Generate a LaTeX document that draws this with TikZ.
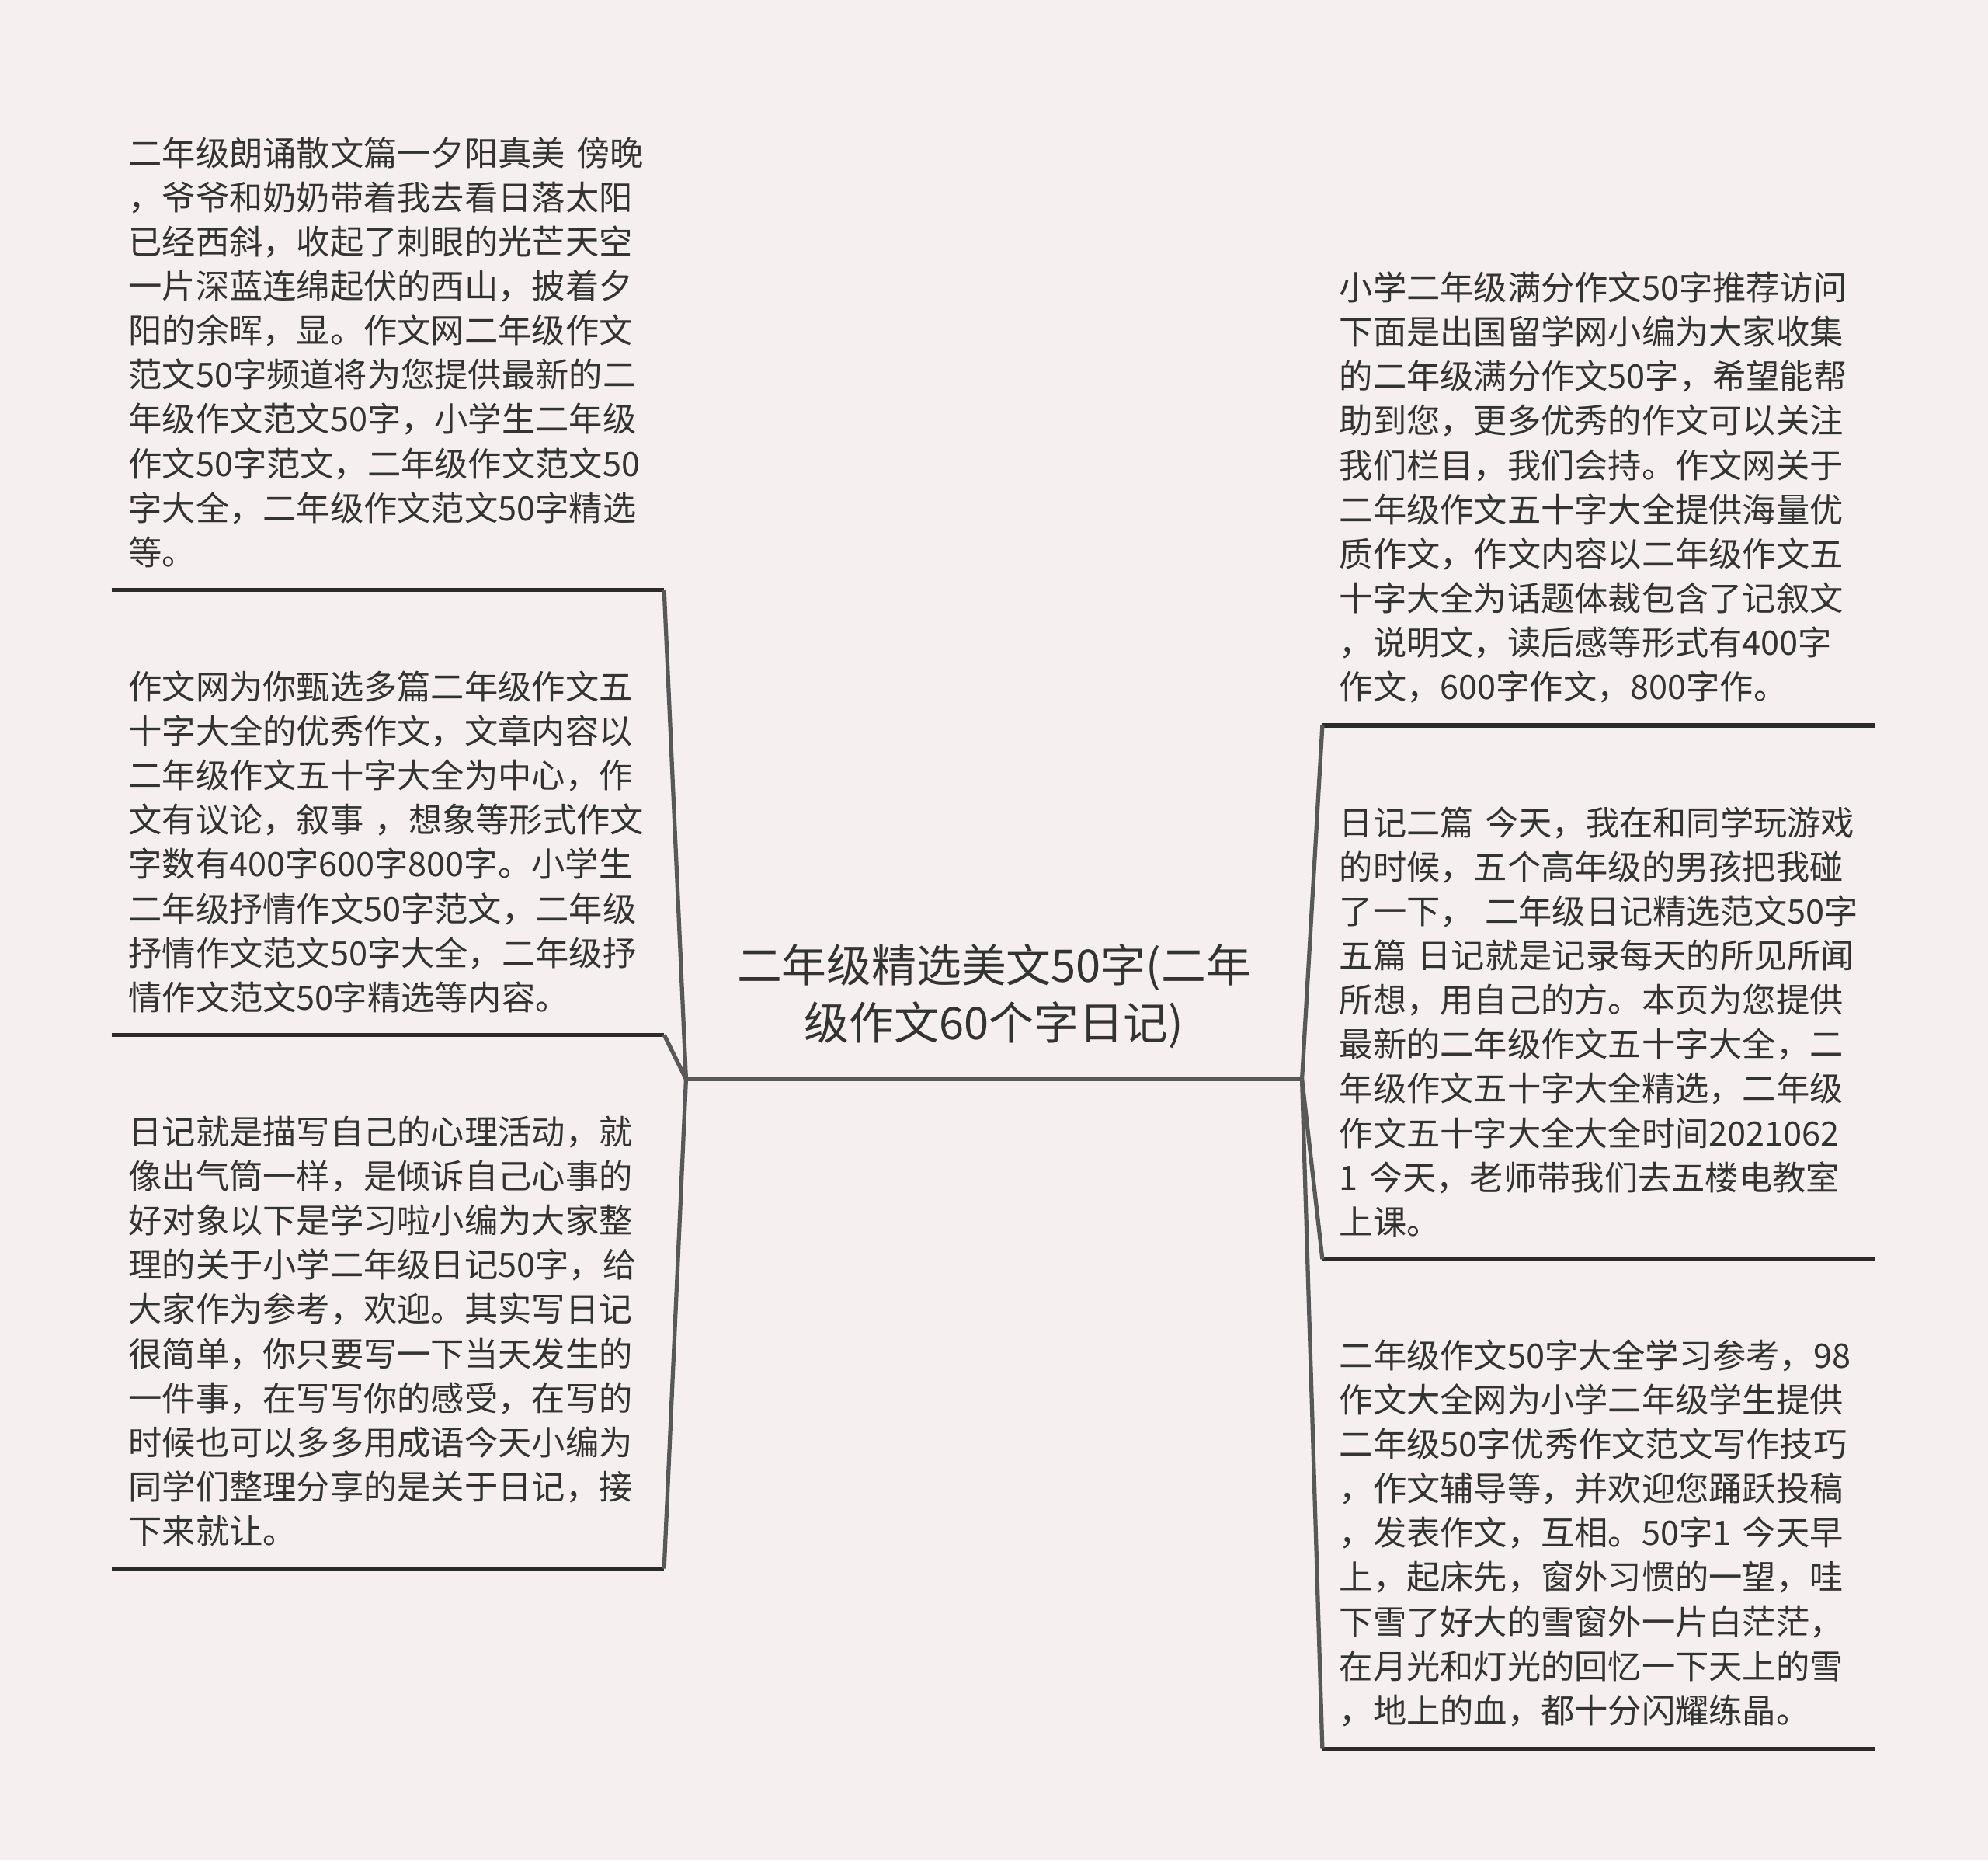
\documentclass[tikz,border=0pt]{standalone}
\usepackage{fontspec}
\setmainfont{Noto Sans CJK SC}
\usepackage{xcolor}
\definecolor{paper}{RGB}{245,239,239}
\definecolor{ink}{RGB}{51,51,51}
\definecolor{wire}{RGB}{88,88,88}

\begin{document}
\begin{tikzpicture}[
    x=0.5pt, y=-0.5pt,
    every node/.style={text=ink},
    topic/.style={font=\fontsize{17.7pt}{22.5pt}\selectfont, align=center, minimum width=242.5pt, inner ysep=12pt, anchor=south},
    leaf/.style={font=\fontsize{13.25pt}{17.5pt}\selectfont, align=left, text width=204.5pt, inner xsep=6.5pt, inner ysep=8.5pt, anchor=south west},
    leafline/.style={line width=1.6pt, draw=ink!85!black},
    branch/.style={line width=1.6pt, draw=wire}
]

% Background
\fill[paper] (0,0) rectangle (1568,1467);

% Nodes
\node[topic] (topic) at (784,851) {二年级精选美文50字(二年\\级作文60个字日记)};

\node[leaf] (l1) at (88,465) {二年级朗诵散文篇一夕阳真美~傍晚\\，爷爷和奶奶带着我去看日落太阳\\已经西斜，收起了刺眼的光芒天空\\一片深蓝连绵起伏的西山，披着夕\\阳的余晖，显。作文网二年级作文\\范文50字频道将为您提供最新的二\\年级作文范文50字，小学生二年级\\作文50字范文，二年级作文范文50\\字大全，二年级作文范文50字精选\\等。};
\node[leaf] (l2) at (88,816) {作文网为你甄选多篇二年级作文五\\十字大全的优秀作文，文章内容以\\二年级作文五十字大全为中心，作\\文有议论，叙事~，想象等形式作文\\字数有400字600字800字。小学生\\二年级抒情作文50字范文，二年级\\抒情作文范文50字大全，二年级抒\\情作文范文50字精选等内容。};
\node[leaf] (l3) at (88,1237) {日记就是描写自己的心理活动，就\\像出气筒一样，是倾诉自己心事的\\好对象以下是学习啦小编为大家整\\理的关于小学二年级日记50字，给\\大家作为参考，欢迎。其实写日记\\很简单，你只要写一下当天发生的\\一件事，在写写你的感受，在写的\\时候也可以多多用成语今天小编为\\同学们整理分享的是关于日记，接\\下来就让。};

\node[leaf] (r1) at (1043,572) {小学二年级满分作文50字推荐访问\\下面是出国留学网小编为大家收集\\的二年级满分作文50字，希望能帮\\助到您，更多优秀的作文可以关注\\我们栏目，我们会持。作文网关于\\二年级作文五十字大全提供海量优\\质作文，作文内容以二年级作文五\\十字大全为话题体裁包含了记叙文\\，说明文，读后感等形式有400字\\作文，600字作文，800字作。};
\node[leaf] (r2) at (1043,993) {日记二篇~今天，我在和同学玩游戏\\的时候，五个高年级的男孩把我碰\\了一下，~二年级日记精选范文50字\\五篇~日记就是记录每天的所见所闻\\所想，用自己的方。本页为您提供\\最新的二年级作文五十字大全，二\\年级作文五十字大全精选，二年级\\作文五十字大全大全时间2021062\\1~今天，老师带我们去五楼电教室\\上课。};
\node[leaf] (r3) at (1043,1379) {二年级作文50字大全学习参考，98\\作文大全网为小学二年级学生提供\\二年级50字优秀作文范文写作技巧\\，作文辅导等，并欢迎您踊跃投稿\\，发表作文，互相。50字1~今天早\\上，起床先，窗外习惯的一望，哇\\下雪了好大的雪窗外一片白茫茫，\\在月光和灯光的回忆一下天上的雪\\，地上的血，都十分闪耀练晶。};

% Underlines
\draw[branch] (topic.south west) -- (topic.south east);
\foreach \n in {l1,l2,l3,r1,r2,r3}
    \draw[leafline] (\n.south west) -- (\n.south east);

% Connectors
\draw[branch] (topic.south west) -- (l1.south east);
\draw[branch] (topic.south west) -- (l2.south east);
\draw[branch] (topic.south west) -- (l3.south east);
\draw[branch] (topic.south east) -- (r1.south west);
\draw[branch] (topic.south east) -- (r2.south west);
\draw[branch] (topic.south east) -- (r3.south west);

\end{tikzpicture}
\end{document}
